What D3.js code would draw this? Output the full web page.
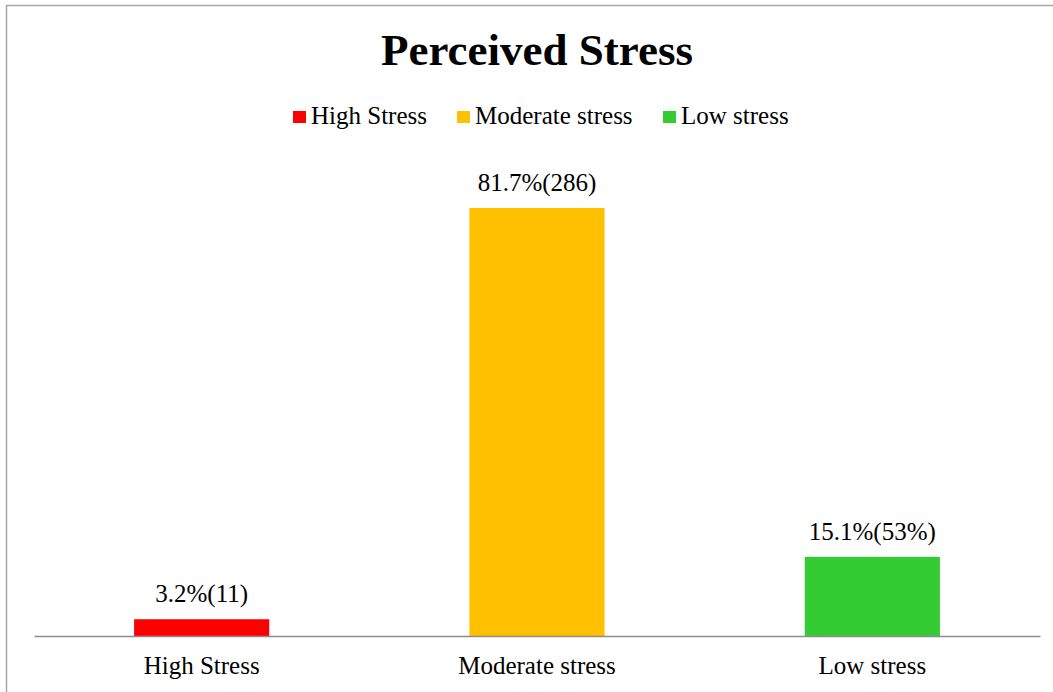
<!DOCTYPE html>
<html>
<head>
<meta charset="utf-8">
<script src="https://cdn.jsdelivr.net/npm/d3@7"></script>
<style>
  html, body { margin: 0; padding: 0; background: #fff; }
  svg { display: block; }
  text { font-family: "Liberation Serif", "Times New Roman", serif; fill: #000; }
</style>
</head>
<body>
<div id="chart"></div>
<script>
var categories = ['High Stress', 'Moderate stress', 'Low stress'];
var percents = [3.2, 81.7, 15.1];
var barLabels = ['3.2%(11)', '81.7%(286)', '15.1%(53%)'];
var colors = ['#ff0000', '#ffc000', '#33cc33'];

const W = 1053;
const H = 692;

var svg = d3
  .select('#chart')
  .append('svg')
  .attr('width', W)
  .attr('height', H);

// chart frame (only left/top edges are visible in the window)
svg.append('rect')
  .attr('x', 6.5)
  .attr('y', 5.5)
  .attr('width', 1200)
  .attr('height', 900)
  .attr('fill', 'none')
  .attr('stroke', '#a6a6a6')
  .attr('stroke-width', 1.5);

svg.append('text')
  .attr('x', 537)
  .attr('y', 65)
  .attr('text-anchor', 'middle')
  .style('font-size', '45px')
  .style('font-weight', 'bold')
  .text('Perceived Stress');

// legend
var legendX = [293, 457, 663];
var legend = svg.selectAll('g.legend')
  .data(categories)
  .enter()
  .append('g')
  .attr('class', 'legend')
  .attr('transform', (d, i) => `translate(${legendX[i]},0)`);

legend.append('rect')
  .attr('x', 0)
  .attr('y', 111)
  .attr('width', 13)
  .attr('height', 12)
  .attr('fill', (d, i) => colors[i]);

legend.append('text')
  .attr('x', 18)
  .attr('y', 124)
  .style('font-size', '25px')
  .text((d) => d);

var x = d3.scaleBand()
  .domain(categories)
  .range([34, 1040])
  .paddingInner(0.597)
  .paddingOuter(0.2985);

var y = d3.scaleLinear()
  .domain([0, 90])
  .range([636, 164.5]);

svg.selectAll('rect.bar')
  .data(percents)
  .enter()
  .append('rect')
  .attr('class', 'bar')
  .attr('x', (d, i) => x(categories[i]))
  .attr('y', (d) => y(d))
  .attr('width', x.bandwidth())
  .attr('height', (d) => y(0) - y(d))
  .attr('fill', (d, i) => colors[i]);

svg.selectAll('text.barLabel')
  .data(percents)
  .enter()
  .append('text')
  .attr('class', 'barLabel')
  .attr('x', (d, i) => x(categories[i]) + x.bandwidth() / 2)
  .attr('y', (d) => y(d) - 17)
  .attr('text-anchor', 'middle')
  .style('font-size', '25px')
  .text((d, i) => barLabels[i]);

// category axis
var xAxis = svg.append('g')
  .attr('transform', `translate(0,${y(0)})`)
  .call(d3.axisBottom(x).tickSize(0).tickPadding(0));

xAxis.select('.domain')
  .attr('stroke', '#8c8c8c')
  .attr('stroke-width', 1.5);

xAxis.selectAll('.tick text')
  .attr('dy', null)
  .attr('y', 38)
  .style('font-family', '"Liberation Serif", "Times New Roman", serif')
  .style('font-size', '25px')
  .attr('fill', '#000');
</script>
</body>
</html>
